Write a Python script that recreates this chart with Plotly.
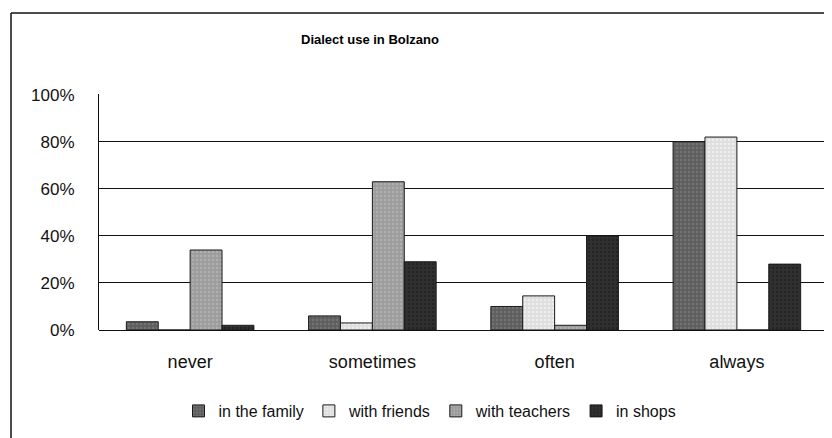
import plotly.graph_objects as go

categories = ["never", "sometimes", "often", "always"]
series_names = ["in the family", "with friends", "with teachers", "in shops"]
in_the_family = [0.035, 0.06, 0.10, 0.80]
with_friends = [0.0, 0.03, 0.145, 0.82]
with_teachers = [0.34, 0.63, 0.02, 0.0]
in_shops = [0.02, 0.29, 0.40, 0.28]
y_ticks = [0, 0.2, 0.4, 0.6, 0.8, 1.0]
y_tick_labels = ["0%", "20%", "40%", "60%", "80%", "100%"]

values = [in_the_family, with_friends, with_teachers, in_shops]
colors = ["#5e5e5e", "#dedede", "#9c9c9c", "#303030"]
pat_fg = ["#8a8a8a", "#ffffff", "#c4c4c4", "#181818"]

FONT = "Liberation Sans, Arial, sans-serif"
OFF = 8  # the page body adds an 8px margin around the figure

# plot area in screenshot pixels (reference)
L, R, T, B = 99, 828, 94, 330

fig = go.Figure()
for name, vals, c, fg in zip(series_names, values, colors, pat_fg):
    fig.add_trace(go.Bar(
        name=name, x=categories, y=vals,
        marker=dict(color=c, line=dict(color="#1a1a1a", width=1),
                    pattern=dict(shape=".", fgcolor=fg, size=4, solidity=0.3)),
    ))

W, H = 832, 438
fig.update_layout(
    width=W, height=H,
    margin=dict(l=L - OFF, r=W - (R - OFF), t=T - OFF, b=H - (B - OFF), autoexpand=False),
    paper_bgcolor="white", plot_bgcolor="white",
    barmode="group", bargap=0.30, bargroupgap=0.0,
    font=dict(family=FONT, color="#111111", size=17),
    title=dict(text="<b>Dialect use in Bolzano</b>", x=(370 - OFF) / W, xanchor="center",
               y=1 - (39 - OFF) / H, yanchor="middle",
               font=dict(family=FONT, size=13, color="#000000")),
    showlegend=True,
    legend=dict(orientation="h", xref="container", yref="container",
                x=(430 - OFF) / W, xanchor="center", y=1 - (411 - OFF) / H, yanchor="middle",
                font=dict(family=FONT, size=16), itemwidth=30, traceorder="normal",
                bgcolor="rgba(0,0,0,0)"),
    xaxis=dict(showgrid=False, showline=False, ticks="", ticklabelstandoff=19,
               tickfont=dict(size=18)),
    yaxis=dict(range=[0, 1.003], tickvals=y_ticks, ticktext=y_tick_labels,
               showgrid=True, gridcolor="#111111", gridwidth=1,
               showline=True, linecolor="#111111", linewidth=1,
               zeroline=True, zerolinecolor="#111111", zerolinewidth=1,
               ticks="", ticklabelstandoff=20, tickfont=dict(size=17)),
)

# outer chart frame (left and top edges visible in the reference)
pw, ph = R - L, B - T
fx, fy = 11, 13
fig.add_shape(type="line", xref="paper", yref="paper",
              x0=(fx - L) / pw, x1=(fx - L) / pw,
              y0=(B - fy) / ph, y1=(B - 450) / ph,
              line=dict(color="#111111", width=1.5))
fig.add_shape(type="line", xref="paper", yref="paper",
              x0=(fx - L) / pw, x1=1.0,
              y0=(B - fy) / ph, y1=(B - fy) / ph,
              line=dict(color="#111111", width=1.5))

fig.write_html("out.html")
